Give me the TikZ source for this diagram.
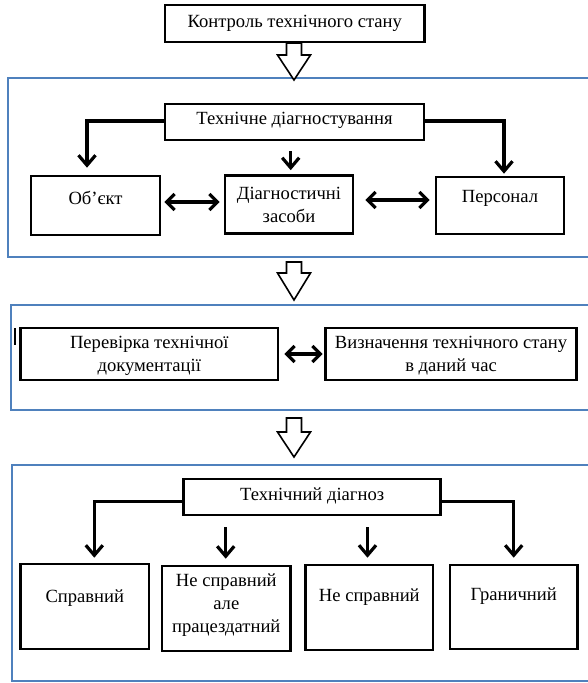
\documentclass[tikz,border=0pt]{standalone}
\usepackage{fontspec}
\setmainfont{Liberation Serif}
\usetikzlibrary{arrows.meta}
\definecolor{blueC}{RGB}{79,129,189}
\begin{document}
\begin{tikzpicture}[x=1pt,y=-1pt,
  box/.style={draw=black, line width=2.6pt, inner sep=0pt, fill=white},
  txt/.style={inner sep=0pt, align=center, font=\fontsize{18.6pt}{23pt}\selectfont},
  frame/.style={draw=blueC, line width=2pt},
  arr/.style={line width=3.2pt, -{Straight Barb[length=10pt,width=17pt]}},
  dbl/.style={line width=3.2pt, {Straight Barb[length=8pt,width=16pt]}-{Straight Barb[length=8pt,width=16pt]}},
  hollow/.style={draw=black, line width=1.6pt, fill=white, line join=miter}]
\useasboundingbox (0,0) rectangle (588,683);
\fill[white] (0,0) rectangle (588,683);

% blue frames
\draw[frame] (596,78) -- (7.5,78) -- (7.5,257) -- (596,257);
\draw[frame] (596,305) -- (11,305) -- (11,410) -- (596,410);
\draw[frame] (596,465) -- (11.5,465) -- (11.5,681) -- (596,681);

% boxes
\node[box, minimum width=259.5pt, minimum height=37pt] (top) at (294.75,23.5) {};
\node[box, minimum width=259pt, minimum height=36pt] (td) at (294.5,122) {};
\node[box, minimum width=129pt, minimum height=59pt] (obj) at (95.5,205.5) {};
\node[box, minimum width=128pt, minimum height=58pt] (diag) at (289,204.5) {};
\node[box, minimum width=128pt, minimum height=57pt] (pers) at (500,205.5) {};
\node[box, minimum width=257.4pt, minimum height=52pt] (perev) at (149.3,354) {};
\node[box, minimum width=251.2pt, minimum height=52pt] (vyzn) at (451.1,354) {};
\node[box, minimum width=257pt, minimum height=36pt] (tdz) at (312.15,497) {};
\node[box, minimum width=128.4pt, minimum height=85pt] (b1) at (84.8,606.5) {};
\node[box, minimum width=128.6pt, minimum height=85pt] (b2) at (226.3,608.5) {};
\node[box, minimum width=127.4pt, minimum height=85pt] (b3) at (369.3,607.5) {};
\node[box, minimum width=127.4pt, minimum height=84pt] (b4) at (513.7,607) {};

% texts
\node[txt] (top-t) at (294.75,23) {Контроль технічного стану};
\node[txt] (td-t) at (294.5,120.5) {Технічне діагностування};
\node[txt] (obj-t) at (95.5,198) {Об’єкт};
\node[txt] (diag-t) at (289,204.5) {Діагностичні\\засоби};
\node[txt] (pers-t) at (500,198) {Персонал};
\node[txt] (perev-t) at (149.3,356) {Перевірка технічної\\документації};
\node[txt] (vyzn-t) at (451.1,356) {Визначення технічного стану\\в даний час};
\node[txt] (tdz-t) at (312.15,495.5) {Технічний діагноз};
\node[txt] (b1-t) at (84.8,598.5) {Справний};
\node[txt] (b2-t) at (226.3,605) {Не справний\\але\\працездатний};
\node[txt] (b3-t) at (369.3,597.5) {Не справний};
\node[txt] (b4-t) at (513.7,596.5) {Граничний};

% hollow block arrows
\draw[hollow] (286.5,43) -- (301.5,43) -- (301.5,55) -- (310.5,55) -- (294,80) -- (277.5,55) -- (286.5,55) -- cycle;
\draw[hollow] (286.5,262) -- (301.5,262) -- (301.5,273) -- (310.5,273) -- (294,300) -- (277.5,273) -- (286.5,273) -- cycle;
\draw[hollow] (286.5,418) -- (301.5,418) -- (301.5,432) -- (310.5,432) -- (294,457) -- (277.5,432) -- (286.5,432) -- cycle;

% small mark
\draw[line width=1.5pt] (15,328) -- (15,345);

% connectors, upper block
\draw[arr, shorten >=7pt] ([yshift=1pt]td.west) -| ([xshift=-8.5pt]obj.north);
\draw[arr, shorten >=2pt] ([yshift=1pt]td.east) -| ([xshift=4pt]pers.north);
\coordinate (dn) at ([xshift=1.7pt]diag.north);
\draw[arr, shorten <=10pt, shorten >=4pt] (dn |- td.south) -- (dn);
\coordinate (d1) at ([yshift=3.5pt]obj.east);
\draw[dbl, shorten <=3pt, shorten >=4pt] (d1) -- (d1 -| diag.west);
\coordinate (d2) at ([yshift=4.5pt]diag.east);
\draw[dbl, shorten <=11pt, shorten >=5pt] (d2) -- (d2 -| pers.west);

% middle block
\draw[dbl, shorten <=5pt, shorten >=1.5pt] (perev.east) -- (vyzn.west);

% lower block
\draw[arr, shorten >=5pt] ([yshift=-4.5pt]tdz.west) -| ([xshift=9.5pt]b1.north);
\draw[arr, shorten >=6pt] ([yshift=-4.5pt]tdz.east) -| (b4.north);
\coordinate (a2) at (225.7,527);
\draw[arr, shorten >=6pt] (a2) -- (a2 |- b2.north);
\coordinate (a3) at (367.5,527);
\draw[arr, shorten >=6pt] (a3) -- (a3 |- b3.north);
\end{tikzpicture}
\end{document}
